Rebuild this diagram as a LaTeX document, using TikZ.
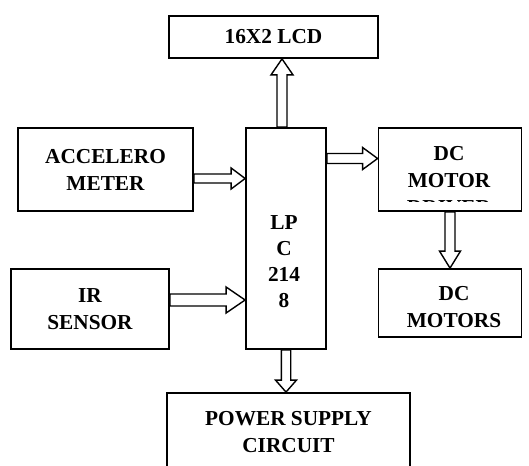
\documentclass[tikz,border=0pt]{standalone}
\usepackage{fontspec}
\setmainfont{Liberation Serif}
\usepackage{tikz}
\usetikzlibrary{calc}

\begin{document}
\begin{tikzpicture}[
  x = 1pt, y = -1pt,
  box/.style     = {rectangle, draw, line width=1.8pt, inner sep=0pt,
                    align=center, font=\bfseries\fontsize{21.3}{27}\selectfont},
  txt/.style     = {inner sep=0pt, align=center,
                    font=\bfseries\fontsize{21.3}{27}\selectfont},
  fat/.style args = {#1/#2/#3}{draw, line width=1.4pt, line join=miter,
    to path={let \p1=(\tikztostart), \p2=(\tikztotarget),
      \n1={atan2(\y2-\y1,\x2-\x1)}, \n2={veclen(\x2-\x1,\y2-\y1)-#3} in
      ($(\p1)+({\n1+90}:#1)$) -- ($(\p1)+({\n1}:{\n2*1pt})+({\n1+90}:#1)$)
      -- ($(\p1)+({\n1}:{\n2*1pt})+({\n1+90}:#2)$) -- (\p2)
      -- ($(\p1)+({\n1}:{\n2*1pt})+({\n1-90}:#2)$)
      -- ($(\p1)+({\n1}:{\n2*1pt})+({\n1-90}:#1)$)
      -- ($(\p1)+({\n1-90}:#1)$) -- cycle}},
  fat/.default   = 5pt/11pt/16pt,
]
\useasboundingbox (0,0) rectangle (529,465);
\node[box, minimum width=209pt, minimum height=42pt]  (lcd) at (273.5,37)  {16X2 LCD};
\node[box, minimum width=175pt, minimum height=83pt]  (acc) at (105.5,169.5) {ACCELERO\\METER};
\node[box, minimum width=80pt,  minimum height=221pt] (lpc) at (286,238.5) {};
\node[box, minimum width=143pt, minimum height=83pt]  (drv) at (450,169.5) {};
\node[box, minimum width=143pt, minimum height=68pt]  (mot) at (450,303)   {};
\node[box, minimum width=158pt, minimum height=80pt]  (ir)  at (90,309)    {IR\\SENSOR};
\node[box, minimum width=243pt, minimum height=78pt]  (pwr) at (288.5,432) {POWER SUPPLY\\CIRCUIT};
\node[txt, font=\bfseries\fontsize{21.3}{26}\selectfont] (lpctxt) at (284,261.8) {LP\\C\\214\\8};
\node[txt] (mottxt) at (454,307.2) {DC\\MOTORS};
\coordinate (cut) at (0,201);
\begin{scope}
  \clip (drv.north west) rectangle (drv.east |- cut);
  \node[txt] (drvtxt) at (449,180.4) {DC\\MOTOR\\DRIVER};
\end{scope}
\coordinate (upx)  at (282,0);
\coordinate (accy) at (0,178.5);
\coordinate (drvy) at (0,158.5);
\coordinate (iry)  at (0,300);
\draw[fat] (lpc.north -| upx) to (lcd.south -| upx);
\draw[fat=4.5pt/10.5pt/14pt] (acc.east |- accy) to (lpc.west |- accy);
\draw[fat=5pt/11pt/15pt] (lpc.east |- drvy) to (drv.west |- drvy);
\draw[fat=5pt/10.5pt/17pt] (drv.south) to (mot.north);
\draw[fat=6pt/13pt/19pt] (ir.east |- iry) to (lpc.west |- iry);
\draw[fat=4.7pt/10.5pt/12pt] (lpc.south) to (lpc.south |- pwr.north);
\end{tikzpicture}
\end{document}
